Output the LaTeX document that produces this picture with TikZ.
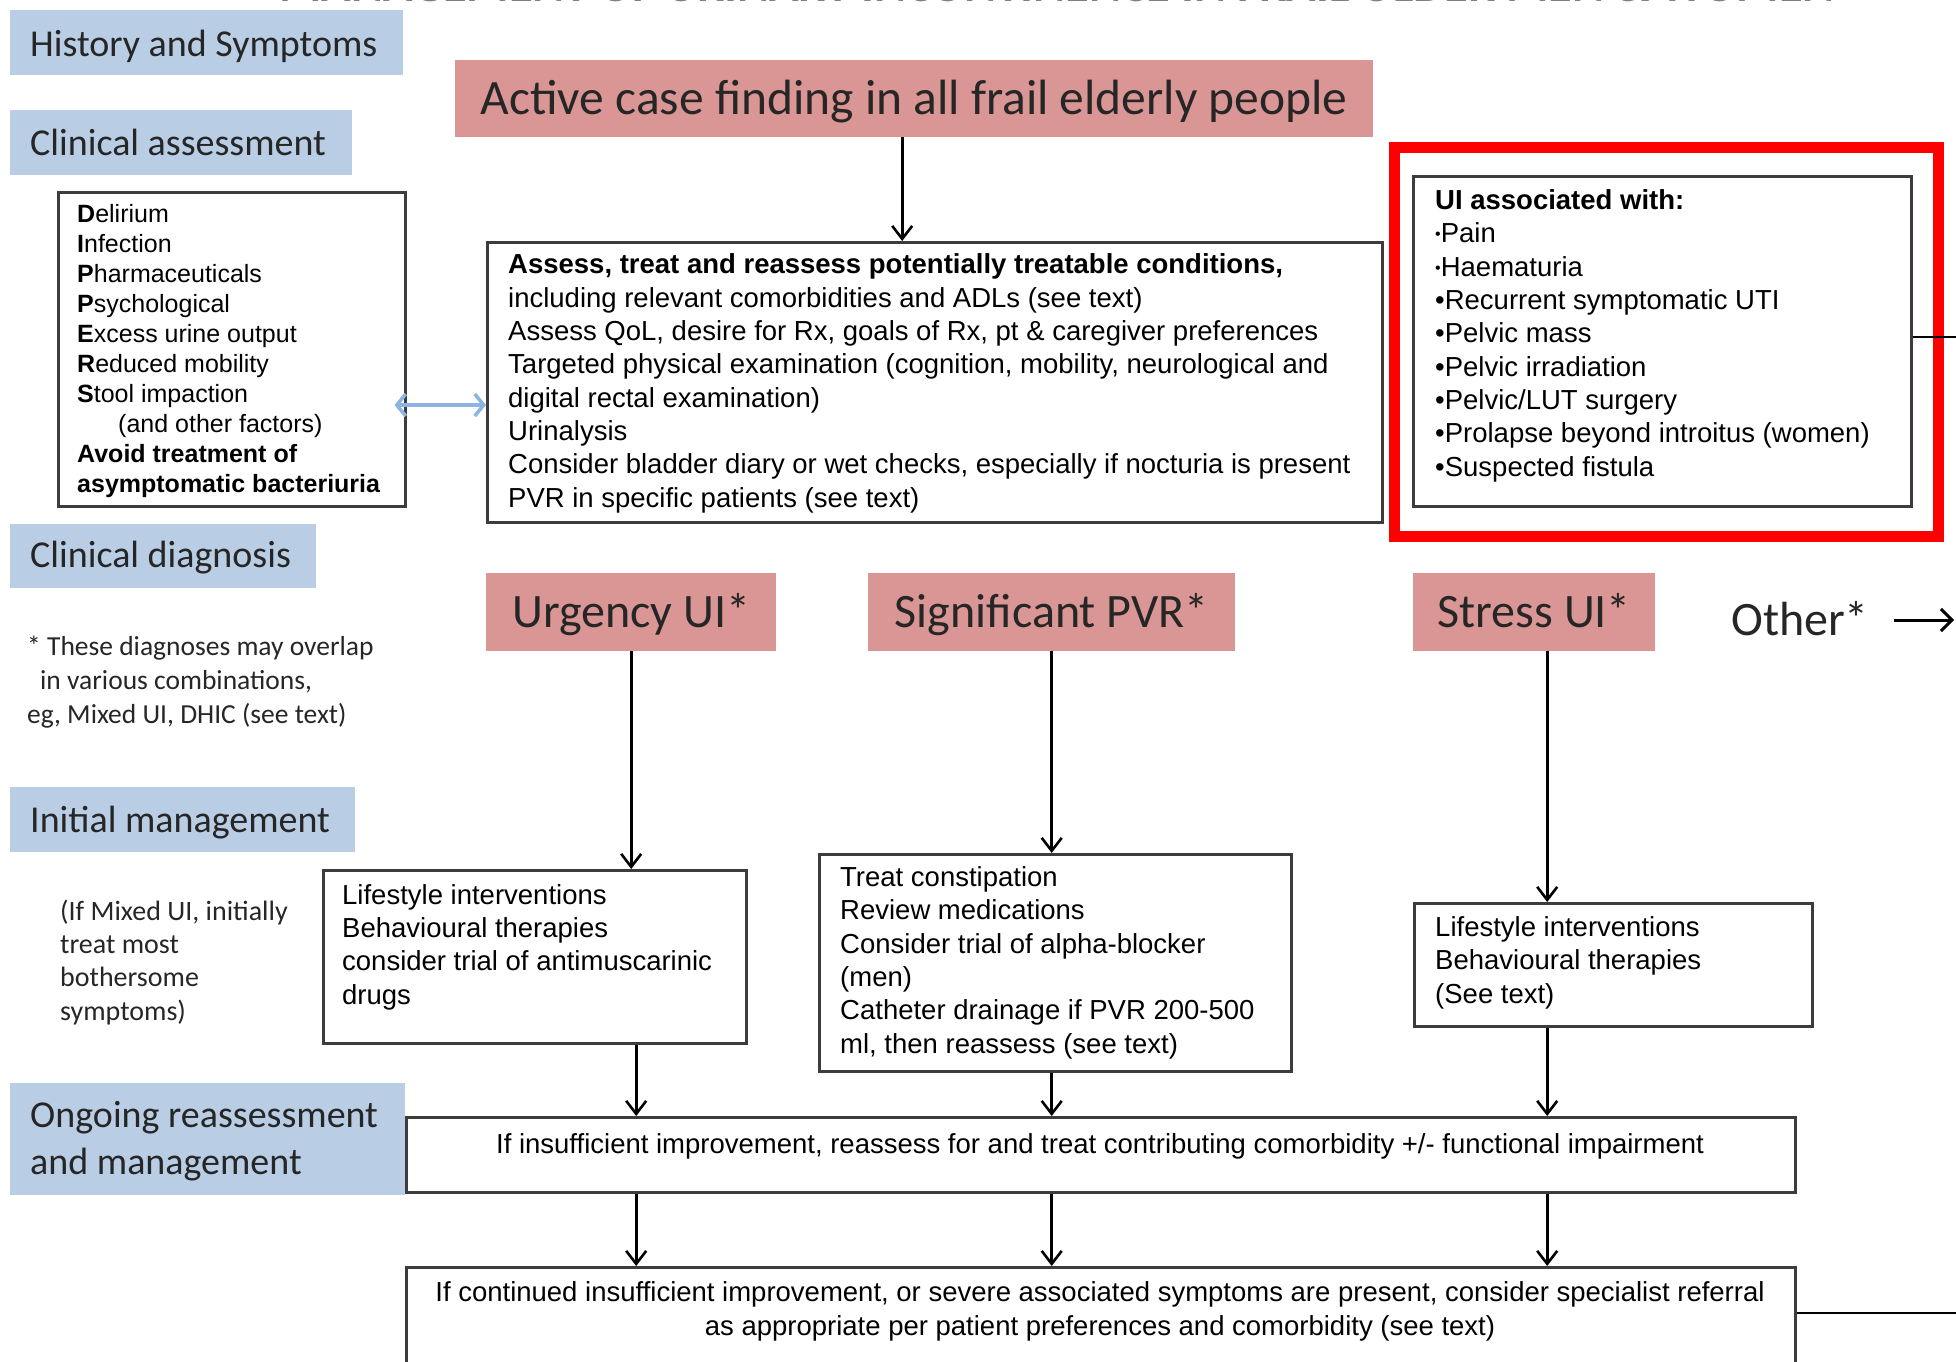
\documentclass[tikz,border=0pt]{standalone}
\usepackage{fontspec}
\setmainfont{Carlito}
\newfontfamily\arialish{Liberation Sans}
\usetikzlibrary{arrows.meta,calc}

\definecolor{hdrblue}{HTML}{B9CDE5}
\definecolor{dxred}{HTML}{D99694}
\definecolor{boxline}{HTML}{3C3C3C}
\definecolor{linkblue}{HTML}{8DB3E2}
\definecolor{hilite}{HTML}{FF0000}

\begin{document}
\begin{tikzpicture}[x=1pt,y=-1pt,
  hdr/.style={fill=hdrblue, draw=none, anchor=north west, inner sep=0pt},
  hdrtext/.style={anchor=base west, inner sep=0pt, align=left,
    font=\fontsize{38}{47}\selectfont, text=black!85},
  dx/.style={fill=dxred, anchor=north west, inner sep=0pt,
    font=\fontsize{48}{58}\selectfont, text height=31pt, text depth=0pt, text=black!85},
  infobox/.style={draw=boxline, line width=2.5pt, fill=white, anchor=north west, inner sep=0pt},
  % multi-line texts are placed by the baseline of their last line
  boxtext/.style={anchor=base west, inner sep=0pt, align=left,
    font=\arialish\fontsize{27.5}{33.3}\selectfont},
  note/.style={anchor=base west, inner sep=0pt, align=left, text=black!85},
  flow/.style={line width=2.6pt, -{Straight Barb[length=13pt, width=20pt]}},
  plain/.style={line width=2.6pt},
]
\useasboundingbox (0,0) rectangle (1956,1361);
\fill[white] (0,0) rectangle (1956,1361);
\clip (0,0) rectangle (1956,1361);

% heading, cut off by the upper edge
\node[anchor=base, inner sep=0pt, font=\fontsize{48.5}{54}\selectfont\bfseries, text=black!50]
  (title) at (1057,1) {MANAGEMENT OF URINARY INCONTINENCE IN FRAIL OLDER MEN \& WOMEN};

% ---------- left column of stage headers ----------
\node[hdr, minimum width=393, minimum height=65] (hHist) at (10,10) {};
\node[hdrtext] (tHist) at (30,56) {History and Symptoms};
\node[hdr, minimum width=342, minimum height=65] (hAssess) at (10,110) {};
\node[hdrtext] (tAssess) at (30,155) {Clinical assessment};
\node[hdr, minimum width=306, minimum height=64] (hDiag) at (10,524) {};
\node[hdrtext] (tDiag) at (30,567) {Clinical diagnosis};
\node[hdr, minimum width=345, minimum height=65] (hInit) at (10,787) {};
\node[hdrtext] (tInit) at (30,832) {Initial management};
\node[hdr, minimum width=395, minimum height=112] (hOngo) at (10,1083) {};
\node[hdrtext] (tOngo) at (30,1174) {Ongoing reassessment\\and management};

% ---------- history ----------
\node[dx, font=\fontsize{49.5}{58}\selectfont, text height=32pt, minimum width=918, minimum height=77]
  (active) at (455,60) {Active case finding in all frail elderly people};

% ---------- clinical assessment ----------
\node[infobox, minimum width=347, minimum height=314] (delir) at (57,191) {};
\node[boxtext, font=\arialish\fontsize{25}{29.9}\selectfont] (delirtxt) at (77,492)
  {\textbf{D}elirium\\
   \textbf{I}nfection\\
   \textbf{P}harmaceuticals\\
   \textbf{P}sychological\\
   \textbf{E}xcess urine output\\
   \textbf{R}educed mobility\\
   \textbf{S}tool impaction\\
   \hspace*{41pt}(and other factors)\\
   \textbf{Avoid treatment of}\\
   \textbf{asymptomatic bacteriuria}};

\node[infobox, minimum width=895, minimum height=280] (assess) at (486,241) {};
\node[boxtext] (assesstxt) at (508,507)
  {\textbf{Assess, treat and reassess potentially treatable conditions,}\\
   including relevant comorbidities and ADLs (see text)\\
   Assess QoL, desire for Rx, goals of Rx, pt \& caregiver preferences\\
   Targeted physical examination (cognition, mobility, neurological and\\
   digital rectal examination)\\
   Urinalysis\\
   Consider bladder diary or wet checks, especially if nocturia is present\\
   PVR in specific patients (see text)};

% red frame round the list of warning signs
\draw[hilite, line width=11pt] (1394,147) rectangle (1938,536);
\node[infobox, minimum width=498, minimum height=330] (ui) at (1412,175) {};
\node[boxtext] (uitxt) at (1435,476)
  {\textbf{UI associated with:}\\
   {\fontsize{16}{16}\selectfont\raisebox{3pt}{•}}Pain\\
   {\fontsize{16}{16}\selectfont\raisebox{3pt}{•}}Haematuria\\
   •Recurrent symptomatic UTI\\
   •Pelvic mass\\
   •Pelvic irradiation\\
   •Pelvic/LUT surgery\\
   •Prolapse beyond introitus (women)\\
   •Suspected fistula};

% ---------- clinical diagnosis ----------
\node[dx, minimum width=290, minimum height=78] (urg) at (486,573) {Urgency UI*};
\node[dx, minimum width=367, minimum height=78] (pvr) at (868,573) {Significant PVR*};
\node[dx, minimum width=242, minimum height=78] (str) at (1413,573) {Stress UI*};
\node[anchor=west, inner sep=0pt, font=\fontsize{48}{58}\selectfont,
  text height=31pt, text depth=0pt, text=black!85] (other) at (1731,620) {Other*};

\node[note, font=\fontsize{27.5}{34}\selectfont] (overlap) at (27,723)
  {* These diagnoses may overlap\\
   \hspace*{13pt}in various combinations,\\
   eg, Mixed UI, DHIC (see text)};

% ---------- initial management ----------
\node[note, font=\fontsize{28}{33.3}\selectfont] (mixed) at (60,1020)
  {(If Mixed UI, initially\\treat most\\bothersome\\symptoms)};

\node[infobox, minimum width=423, minimum height=173] (urgbox) at (322,869) {};
\node[boxtext] (urgtxt) at (342,1004)
  {Lifestyle interventions\\
   Behavioural therapies\\
   consider trial of antimuscarinic\\
   drugs};

\node[infobox, minimum width=472, minimum height=217] (pvrbox) at (818,853) {};
\node[boxtext] (pvrtxt) at (840,1053)
  {Treat constipation\\
   Review medications\\
   Consider trial of alpha-blocker\\
   (men)\\
   Catheter drainage if PVR 200-500\\
   ml, then reassess (see text)};

\node[infobox, minimum width=398, minimum height=123] (strbox) at (1413,902) {};
\node[boxtext] (strtxt) at (1435,1003)
  {Lifestyle interventions\\
   Behavioural therapies\\
   (See text)};

% ---------- ongoing reassessment ----------
\node[infobox, minimum width=1389, minimum height=75] (reass) at (405,1116) {};
\node[boxtext, anchor=base, align=center] (reasstxt) at (1100,1153)
  {If insufficient improvement, reassess for and treat contributing comorbidity +/- functional impairment};

\node[infobox, minimum width=1389, minimum height=160] (final) at (405,1266) {};
\node[boxtext, anchor=base, align=center] (finaltxt) at (1100,1335)
  {If continued insufficient improvement, or severe associated symptoms are present, consider specialist referral\\
   as appropriate per patient preferences and comorbidity (see text)};

% ---------- connectors ----------
\coordinate (dblrow) at (440,405);
\draw[linkblue, line width=3.5pt,
  {Straight Barb[length=9pt, width=22pt]}-{Straight Barb[length=9pt, width=22pt]}]
  ($(delir.east |- dblrow)+(-12,0)$) -- (assess.west |- dblrow);

\draw[flow] ([xshift=-12pt]active.south) -- ([xshift=-12pt]active.south |- assess.north);

\draw[flow] (urg.south) -- (urg.south |- urgbox.north);
\draw[flow] (pvr.south) -- (pvr.south |- pvrbox.north);
\draw[flow] ([xshift=13pt]str.south) -- ([xshift=13pt]str.south |- strbox.north);

\draw[flow] ([xshift=5pt]urg.south |- urgbox.south) -- ([xshift=5pt]urg.south |- reass.north);
\draw[flow] (pvr.south |- pvrbox.south) -- (pvr.south |- reass.north);
\draw[flow] ([xshift=13pt]str.south |- strbox.south) -- ([xshift=13pt]str.south |- reass.north);

\draw[flow] ([xshift=5pt]urg.south |- reass.south) -- ([xshift=5pt]urg.south |- final.north);
\draw[flow] (pvr.south |- reass.south) -- (pvr.south |- final.north);
\draw[flow] ([xshift=13pt]str.south |- reass.south) -- ([xshift=13pt]str.south |- final.north);

\coordinate (othertip) at (1954,620);
\draw[line width=3pt, -{Straight Barb[length=11pt, width=22pt]}] ([xshift=25pt]other.east) -- (othertip);

\coordinate (uiout) at (1960,337);
\draw[plain] (ui.east |- uiout) -- (uiout);
\coordinate (finalout) at (1960,1313);
\draw[plain] (final.east |- finalout) -- (finalout);
\end{tikzpicture}
\end{document}
